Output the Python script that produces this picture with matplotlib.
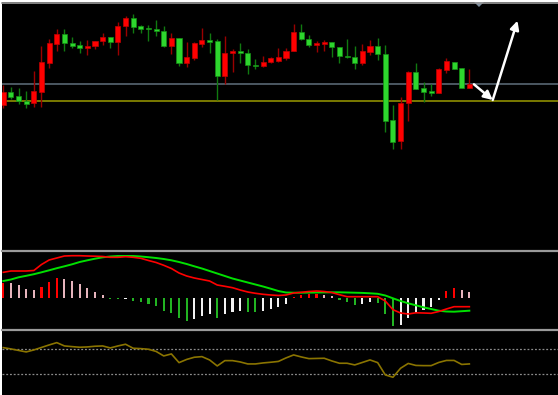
import numpy as np
import matplotlib
matplotlib.use("Agg")
import matplotlib.pyplot as plt
from matplotlib.patches import Rectangle, Polygon
from matplotlib.lines import Line2D

# candle data (price units), red = up, green = down
opens = [195, 208.3, 203.7, 199.3, 196.7, 208.3, 237.3, 256.3, 266.3, 257.3,
         255, 252.3, 254, 259.3, 262.7, 258.3, 274, 282.3, 274, 272.3,
         271.3, 269.3, 254, 261.7, 236.7, 242.3, 256.3, 260.3, 259, 224.3,
         247.3, 249, 246.7, 235.3, 233.7, 238, 239.3, 242.3, 249, 268.3,
         261, 255.3, 256.3, 257.7, 253.3, 244, 243.3, 236.7, 248.3, 254,
         245.7, 180, 159, 197.3, 227.7, 211.7, 209, 206.7, 229.7, 238,
         231.7, 211.7]
highs = [215, 213, 212, 209.3, 229.3, 254, 260.7, 270.7, 271.3, 263.3,
         259.3, 260, 259.3, 266.7, 262.7, 278, 284, 286, 275, 275,
         280, 274, 267.3, 261.7, 258.3, 258.3, 271.7, 267.3, 260.7, 264,
         250.7, 257.3, 250.7, 240.7, 244, 242.7, 251.7, 251.7, 275.7, 276,
         265, 259.3, 260, 258.3, 253.3, 260.7, 254, 256.3, 260, 261.7,
         255, 195, 202.7, 229, 236.7, 218.3, 215.7, 232.3, 242.3, 238,
         231.7, 230.7]
lows = [192, 201, 196, 191.7, 193.3, 193.3, 232.3, 249, 249, 252.3,
        246.7, 245, 250.7, 255, 251.7, 245, 264, 266.7, 266.7, 259.3,
        264, 253.3, 246, 234.3, 233.3, 240, 253.3, 247.3, 200, 215.7,
        228.3, 236.7, 225.7, 231, 232.7, 236.7, 238, 240, 249, 260,
        253.3, 248.3, 249.3, 243.3, 236.7, 241.7, 231, 235, 245, 240,
        168.3, 150.7, 150.7, 179.3, 211, 198.3, 204.3, 206.7, 227.3, 231,
        211.7, 211.7]
closes = [208.3, 202.7, 199, 196.3, 209.3, 238, 256.7, 266.3, 256.7, 254.3,
          252.3, 254.3, 259.3, 262.7, 258, 274, 282.3, 273.3, 271.3, 270.7,
          269, 254, 261.7, 236.7, 242.7, 256.7, 260.3, 258, 224.3, 247.3,
          249, 246.7, 234.7, 233.7, 238.3, 241.7, 243, 249.3, 268.3, 261,
          255.3, 257.3, 258, 252.7, 243.7, 242.7, 236.7, 249, 254, 245.7,
          179.3, 158.3, 197.3, 227.7, 211, 208.3, 206.7, 230.7, 239, 231,
          211.7, 215.7]

resistance = 215.7
support = 199.5

# MACD panel
macd = [26, 27.3, 27.3, 27.3, 27.8, 33.8, 38.3, 40.3, 42.3, 42.6,
        42.6, 42.3, 42.1, 41.8, 41, 41, 41.6, 41, 40, 37.8,
        35.8, 33, 29.8, 25.3, 22.3, 20.3, 18.8, 17.3, 13.3, 12,
        10.6, 8.3, 6.3, 5, 4, 3.3, 2.8, 3.3, 5.3, 6,
        6.8, 7.3, 6.8, 5.8, 3.6, 1.6, 1.6, 1.6, 1.6, 1.6,
        -2.7, -11.4, -14.7, -15.7, -14.5, -14.7, -15, -13.2, -10.7, -8.4,
        -8.4, -8.4]
signal = [17.3, 18.8, 21, 22.5, 24.1, 26, 28, 30.1, 32, 34,
          36.3, 38, 39.6, 41, 41.8, 42.3, 42.3, 42.3, 41.8, 41.1,
          40.3, 39.3, 38, 36.3, 34.3, 32, 29.8, 27.3, 24.8, 22.3,
          19.8, 17.8, 15.8, 13.8, 11.8, 9.6, 7.3, 5.8, 5.6, 5.6,
          5.7, 5.8, 5.9, 6, 6, 5.8, 5.6, 5.4, 5, 4.5,
          2.8, 0, -2.7, -5, -7, -9, -10.7, -12.4, -13.2, -13.4,
          -12.9, -12.4]
hist = [15, 14.8, 13.3, 9.3, 8.3, 11.7, 16.7, 20, 19.3, 17.3,
        14, 10, 6, 3.3, -1, -1.2, -0.5, -2.3, -4, -5.7,
        -7.7, -12.3, -14.3, -20, -22.3, -21, -17.7, -16, -19.3, -15.7,
        -13.3, -12.7, -13.3, -13.5, -12.7, -10.7, -8.3, -5.7, 1, 3.3,
        4, 4.1, 3.3, 2.3, -1.7, -4, -6.7, -6, -4.2, -4.6,
        -15.7, -27.7, -27, -19.3, -14.3, -11.7, -8.3, -1.7, 7.3, 10,
        8.3, 6.7]

# oscillator (0-100) with 70 / 30 levels
rsi = [72.6, 70.5, 68.1, 65.7, 68.9, 72.9, 76.9, 80.6, 75.3, 74.2,
       73.2, 73.7, 74.8, 75.3, 72.1, 75.3, 78, 71.6, 71, 70,
       66.5, 59.3, 62.5, 48.6, 53.7, 57.2, 58.2, 52.9, 43.3, 51.8,
       51.8, 49.7, 46.5, 46.5, 48.1, 49.2, 50.5, 56.1, 60.9, 57.7,
       55, 55.3, 55.6, 51.3, 47.6, 47.6, 44.9, 48.9, 52.9, 48.6,
       28.9, 25.2, 39.6, 47.3, 44.1, 43.8, 43.8, 48.9, 52.1, 52.1,
       45.7, 46.5]
levels = [70, 30]

# arrows drawn on the chart (bar index, price)
arrow1 = [(61.6, 215.7), (64.06, 200)]
arrow2 = [(64.06, 200), (67.3, 279.3)]

W, H = 558, 395


def rect(x0, y0, x1, y1):
    return [x0 / W, 1 - y1 / H, (x1 - x0) / W, (y1 - y0) / H]


fig = plt.figure(figsize=(W / 100, H / 100), dpi=100, facecolor='black')

# white margins on left and top, grey frame line on top
fig.patches.append(Rectangle((0, 0), 2 / W, 1, transform=fig.transFigure,
                             facecolor='white', edgecolor='none', zorder=0))
fig.patches.append(Rectangle((0, 1 - 1.5 / H), 1, 1.5 / H, transform=fig.transFigure,
                             facecolor='white', edgecolor='none', zorder=0))

xlim = (-3.3 / 7.64, (W - 3.3) / 7.64)
idx = np.arange(len(opens))

ax = fig.add_axes(rect(2, 3, W, 249))
ax2 = fig.add_axes(rect(2, 252, W, 328))
ax3 = fig.add_axes(rect(2, 330.5, W, 393))
for a in (ax, ax2, ax3):
    a.set_facecolor('black')
    a.set_xlim(xlim[0] + 2 / 7.64, xlim[1])
    a.set_xticks([])
    a.set_yticks([])
    for s in a.spines.values():
        s.set_visible(False)

# price panel
o = np.array(opens)
c = np.array(closes)
up = c >= o
ax.axhline(resistance, color='#4c5862', lw=1.4, zorder=1)
ax.axhline(support, color='#7a7a00', lw=1.4, zorder=1)
ax.vlines(idx[up], np.array(lows)[up], np.array(highs)[up], color='#9a0000', lw=1, zorder=2)
ax.vlines(idx[~up], np.array(lows)[~up], np.array(highs)[~up], color='#107a10', lw=1, zorder=2)
body_h = np.maximum(np.abs(c - o), 1.2)
ax.bar(idx[up], body_h[up], bottom=np.minimum(o, c)[up], width=0.66,
       color='#ff0000', edgecolor='#c00000', lw=0.5, zorder=3)
ax.bar(idx[~up], body_h[~up], bottom=np.minimum(o, c)[~up], width=0.66,
       color='#2ed62e', edgecolor='#149014', lw=0.5, zorder=3)
ax.set_ylim(51, 297)

for a_from, a_to in (arrow1, arrow2):
    ax.annotate('', xy=a_to, xytext=a_from, zorder=5,
                arrowprops=dict(arrowstyle='-|>', color='white', lw=1.8,
                                mutation_scale=13, shrinkA=0, shrinkB=0))

# MACD panel
hcol = []
for i, v in enumerate(hist):
    rising = i == 0 or v > hist[i - 1]
    if v >= 0:
        hcol.append('#ff0000' if rising else '#e6b4bc')
    else:
        hcol.append('#f2f2f2' if rising else '#22b422')
ax2.bar(idx, hist, width=0.28, color=hcol, zorder=2)
ax2.plot(idx, signal, color='#00e000', lw=1.4, zorder=3)
ax2.plot(idx, macd, color='#ff0000', lw=1.2, zorder=4)
ax2.set_ylim(-29.7, 46.3)

# oscillator panel
for lv in levels:
    ax3.axhline(lv, color='#8c8c8c', lw=0.9, ls=(0, (1.5, 1.5)), zorder=1)
ax3.plot(idx, rsi, color='#8a7400', lw=1.2, zorder=2)
ax3.set_ylim(0, 100)

# panel separators and top frame line
for yp in (2.5, 250.5, 329.5):
    fig.add_artist(Line2D([2 / W, 1], [1 - yp / H] * 2, transform=fig.transFigure,
                          color='#9a9a9a', lw=1.6 if yp > 3 else 1.2))

# small marker at the top
tx = 479
fig.add_artist(Polygon([[(tx - 5) / W, 1 - 2 / H], [(tx + 5) / W, 1 - 2 / H],
                        [tx / W, 1 - 7 / H]], closed=True, transform=fig.transFigure,
                       facecolor='#7d8c9c', edgecolor='none'))

fig.savefig('out.png', dpi=100, facecolor=fig.get_facecolor())
